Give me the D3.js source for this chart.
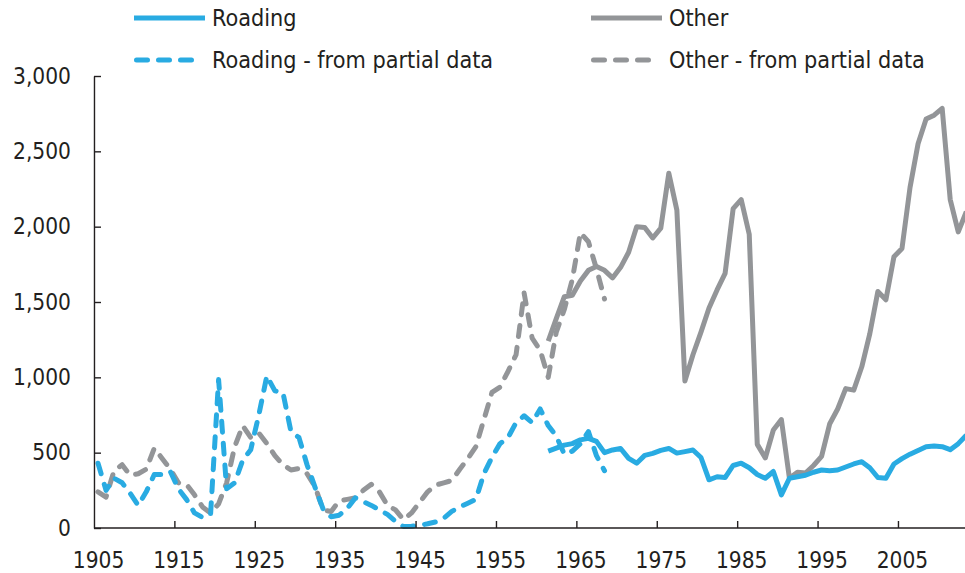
<!DOCTYPE html>
<html>
<head>
<meta charset="utf-8">
<script src="https://cdn.jsdelivr.net/npm/d3@7"></script>
<style>
  html, body { margin: 0; padding: 0; background: #ffffff; }
  svg { display: block; }
  text { font-family: 'DejaVu Sans Condensed', 'DejaVu Sans', sans-serif; fill: #231f20; }
</style>
</head>
<body>
<svg id="chart" width="965" height="573"></svg>
<script>
// ---- Data ----
const partialYears = d3.range(1905, 1969);   // 1905..1968
const fullYears = d3.range(1961, 2014);      // 1961..2013

const roadingPartial = [
  430, 250, 330, 300, 230, 150, 240, 355, 355, 375,
  260, 190, 100, 70, 90, 985, 260, 300, 450, 520,
  750, 1010, 910, 900, 640, 600, 420, 270, 125, 75,
  85, 130, 200, 175, 150, 120, 90, 45, 10, 12,
  18, 28, 40, 65, 110, 140, 165, 190, 360, 470,
  560, 600, 700, 745, 700, 790, 680, 610, 490, 510,
  560, 640, 480, 380
];
const otherPartial = [
  240, 205, 380, 420, 350, 360, 390, 530, 460, 390,
  300, 290, 220, 140, 100, 160, 300, 540, 680, 600,
  630, 560, 480, 420, 385, 395, 360, 275, 120, 110,
  180, 190, 200, 250, 290, 240, 150, 120, 55, 100,
  170, 240, 285, 300, 315, 390, 460, 540, 720, 900,
  935, 1040, 1150, 1560, 1260, 1180, 1000, 1300, 1450, 1650,
  1960, 1900, 1720, 1520
];
const roading = [
  510, 530, 550, 560, 585, 595, 575, 500, 518, 528,
  462, 430, 482, 495, 515, 528, 497, 507, 518, 468,
  320, 340, 335, 415, 430, 400, 355, 330, 375, 220,
  330, 340, 350, 370, 385, 380, 385, 405, 425, 440,
  400, 335, 330, 425, 460, 490, 515, 540, 545, 540,
  520, 560, 615
];
const other = [
  1240, 1390, 1535, 1545, 1640, 1710, 1735, 1710, 1660, 1730,
  1830, 2000, 1995, 1925, 1990, 2355, 2110, 975, 1150, 1300,
  1460, 1580, 1690, 2120, 2180, 1950, 555, 465, 650, 720,
  330, 370, 365, 415, 475, 690, 790, 925, 915, 1070,
  1290, 1570, 1515, 1800, 1855, 2260, 2550, 2715, 2740, 2785,
  2180, 1965, 2100
];
const xTickYears = [1905, 1915, 1925, 1935, 1945, 1955, 1965, 1975, 1985, 1995, 2005];
const yTicks = [0, 500, 1000, 1500, 2000, 2500, 3000];

const legendItems = [
  { label: "Roading", color: "#29abe2", dashed: false, col: 0, row: 0 },
  { label: "Other", color: "#939598", dashed: false, col: 1, row: 0 },
  { label: "Roading - from partial data", color: "#29abe2", dashed: true, col: 0, row: 1 },
  { label: "Other - from partial data", color: "#939598", dashed: true, col: 1, row: 1 }
];

// ---- Layout ----
const svg = d3.select("#chart");
const axisColor = "#231f20";
const fontSize = 22.5;
const legendFontSize = 23.2;
const lineW = 5;
const dash = "11,11";

const x = d3.scaleLinear().domain([1905, 2013]).range([98, 966.3]);
const y = d3.scaleLinear().domain([0, 3000]).range([528, 76]);
const x0 = x(1904.5);

// Series
const line = d3.line()
  .x(d => x(d[0]))
  .y(d => y(d[1]))
  .curve(d3.curveLinear);

const series = [
  { years: partialYears, vals: otherPartial, color: "#939598", dashed: true },
  { years: partialYears, vals: roadingPartial, color: "#29abe2", dashed: true },
  { years: fullYears, vals: other, color: "#939598", dashed: false },
  { years: fullYears, vals: roading, color: "#29abe2", dashed: false }
];

const gLines = svg.append("g");
series.forEach(s => {
  gLines.append("path")
    .datum(s.years.map((yr, i) => [yr, s.vals[i]]))
    .attr("d", line)
    .attr("fill", "none")
    .attr("stroke", s.color)
    .attr("stroke-width", lineW)
    .attr("stroke-linejoin", "round")
    .attr("stroke-linecap", s.dashed ? "round" : "butt")
    .attr("stroke-dasharray", s.dashed ? dash : null);
});

// Y axis (inward ticks)
const yAxis = d3.axisLeft(y)
  .tickValues(yTicks)
  .tickFormat(d3.format(","))
  .tickSizeInner(-7)
  .tickSizeOuter(0)
  .tickPadding(23);
const gy = svg.append("g").attr("transform", `translate(${x0},0)`).call(yAxis);
gy.select(".domain").attr("stroke", axisColor).attr("stroke-width", 1.4);
gy.selectAll(".tick line").attr("stroke", axisColor).attr("stroke-width", 1.4);
gy.selectAll(".tick text").attr("font-size", fontSize).attr("font-family", null).style("fill", axisColor);

// X axis tick marks (at category boundaries, pointing up)
const xTickAxis = d3.axisTop(x)
  .tickValues(xTickYears.slice(1).map(v => v - 0.5))
  .tickFormat("")
  .tickSizeInner(7)
  .tickSizeOuter(0);
const gxt = svg.append("g").attr("transform", `translate(0,${y(0)})`).call(xTickAxis);
gxt.select(".domain").remove();
gxt.selectAll(".tick line").attr("stroke", axisColor).attr("stroke-width", 1.4);

// X axis line + labels (labels at category centers)
const xAxis = d3.axisBottom(x)
  .tickValues(xTickYears)
  .tickFormat(d3.format("d"))
  .tickSize(0)
  .tickPadding(24);
const gx = svg.append("g").attr("transform", `translate(0,${y(0)})`).call(xAxis);
gx.select(".domain").attr("d", `M${x0},0H965`).attr("stroke", axisColor).attr("stroke-width", 1.4);
gx.selectAll(".tick text").attr("font-size", fontSize).attr("font-family", null).style("fill", axisColor);

// Legend
const colX = [134, 591];
const rowY = [18, 60];
const legLen = 71;
const gLeg = svg.append("g");
legendItems.forEach(it => {
  const lx = colX[it.col], ly = rowY[it.row];
  gLeg.append("line")
    .attr("x1", lx + (it.dashed ? 2.5 : 0)).attr("x2", lx + legLen - (it.dashed ? 2.5 : 0))
    .attr("y1", ly).attr("y2", ly)
    .attr("stroke", it.color)
    .attr("stroke-width", lineW)
    .attr("stroke-linecap", it.dashed ? "round" : "butt")
    .attr("stroke-dasharray", it.dashed ? dash : null);
  gLeg.append("text")
    .attr("x", lx + 78).attr("y", ly)
    .attr("dy", "0.35em")
    .attr("font-size", legendFontSize)
    .text(it.label);
});
</script>
</body>
</html>
